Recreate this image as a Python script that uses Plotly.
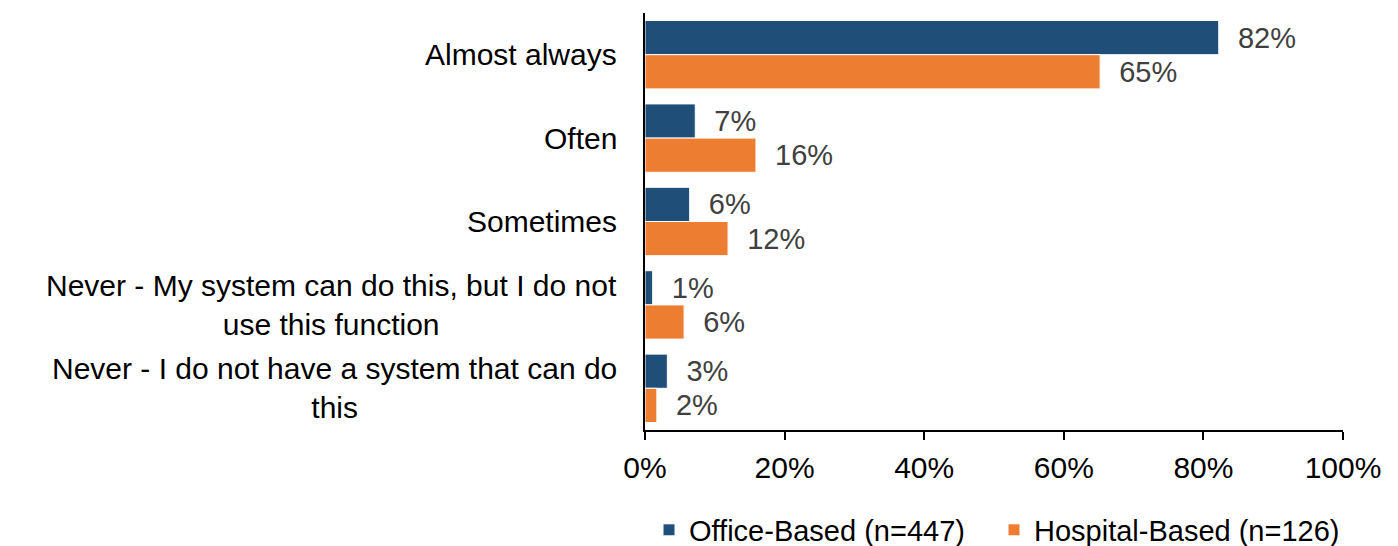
import plotly.graph_objects as go

categories = [
    "Almost always",
    "Often",
    "Sometimes",
    "Never - My system can do this, but I do not<br>use this function",
    "Never - I do not have a system that can do<br>this",
]
office = [82.2, 7.2, 6.4, 1.1, 3.2]
hospital = [65.2, 15.9, 11.9, 5.6, 1.7]
series_names = ["Office-Based (n=447)", "Hospital-Based (n=126)"]
colors = ["#1F4E79", "#ED7D31"]
x_ticks = [0, 20, 40, 60, 80, 100]
x_ticklabels = ["0%", "20%", "40%", "60%", "80%", "100%"]

FONT = "Liberation Sans, Arial, sans-serif"

fig = go.Figure()
for name, vals, col in zip(series_names, [office, hospital], colors):
    fig.add_trace(go.Bar(
        y=categories, x=vals, name=name, orientation="h",
        marker=dict(color=col, line=dict(color="white", width=1)),
        text=[f"{round(v)}%" for v in vals],
        texttemplate="  %{text}",
        textposition="outside", cliponaxis=False,
        textfont=dict(family=FONT, size=29, color="#404040"),
    ))

for c in categories:
    fig.add_annotation(
        x=0, xref="paper", xanchor="right", xshift=-26,
        y=c, yref="y", yanchor="middle",
        text=c, showarrow=False, align="center",
        font=dict(family=FONT, size=30, color="black"),
    )

fig.update_layout(
    width=1398, height=546,
    margin=dict(l=637, r=63, t=5, b=124, autoexpand=False),
    plot_bgcolor="white", paper_bgcolor="white",
    barmode="group", bargap=0.18, bargroupgap=0,
    font=dict(family=FONT, color="black"),
    legend=dict(
        orientation="h", x=0.5, xanchor="center",
        yref="container", y=0.044, yanchor="middle",
        font=dict(family=FONT, size=29, color="black"),
        itemwidth=30, traceorder="normal",
        entrywidth=300, entrywidthmode="pixels",
    ),
)
fig.update_xaxes(
    range=[0, 100], tickvals=x_ticks, ticktext=x_ticklabels,
    showgrid=False, zeroline=False,
    showline=True, linecolor="black", linewidth=2,
    ticks="outside", ticklen=8, tickwidth=2, tickcolor="black",
    tickfont=dict(family=FONT, size=30, color="black"),
    ticklabelstandoff=2,
)
fig.update_yaxes(
    autorange="reversed", showticklabels=False, showgrid=False,
    showline=True, linecolor="black", linewidth=2, ticks="",
)

fig.write_html("out.html")
